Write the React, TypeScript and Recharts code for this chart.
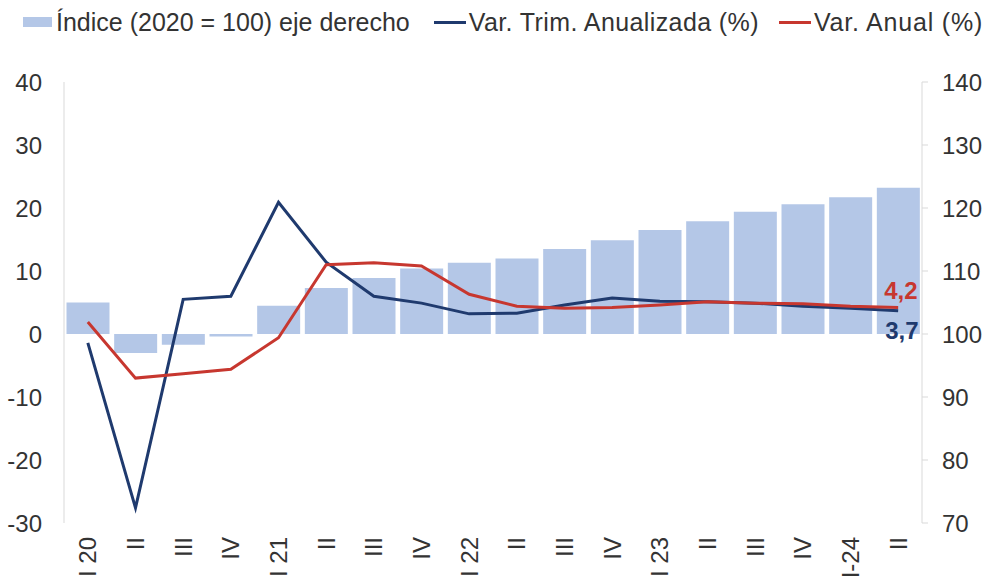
import React from 'react';
import {
  ComposedChart,
  Bar,
  Line,
  XAxis,
  YAxis,
  Legend,
} from 'recharts';

// Trimestres (eje X)
const categories = [
  'I 20', 'II', 'III', 'IV',
  'I 21', 'II', 'III', 'IV',
  'I 22', 'II', 'III', 'IV',
  'I 23', 'II', 'III', 'IV',
  'I-24', 'II',
];

// Índice (2020 = 100), eje derecho
const indice = [
  105.0, 97.0, 98.3, 99.6, 104.5, 107.3, 108.9, 110.4, 111.3,
  112.0, 113.5, 114.9, 116.5, 117.9, 119.4, 120.6, 121.7, 123.2,
];

// Var. Trim. Anualizada (%)
const varTrim = [
  -1.4, -27.6, 5.5, 6.0, 20.9, 11.4, 6.0, 4.9, 3.2,
  3.3, 4.6, 5.7, 5.2, 5.1, 4.9, 4.4, 4.1, 3.7,
];

// Var. Anual (%)
const varAnual = [
  1.9, -7.0, -6.3, -5.6, -0.6, 11.0, 11.3, 10.8, 6.3,
  4.4, 4.1, 4.2, 4.6, 5.1, 4.9, 4.8, 4.4, 4.2,
];

const leftTicks = [-30, -20, -10, 0, 10, 20, 30, 40];
const rightTicks = [70, 80, 90, 100, 110, 120, 130, 140];

const BAR_COLOR = '#b4c7e7';
const BLUE = '#1f3a6e';
const RED = '#c7372f';
const TEXT = '#333333';
const FONT = '"Liberation Sans", Arial, sans-serif';

const data = categories.map((cat, i) => ({
  cat,
  indice: indice[i],
  trim: varTrim[i],
  anual: varAnual[i],
}));

const last = data.length - 1;

// bars start at 100, not at the axis minimum
const barRange = (d: { indice: number }) =>
  [Math.min(100, d.indice), Math.max(100, d.indice)];

const fmt = (v: number) => v.toFixed(1).replace('.', ',');

const XTick = (props: any) => {
  const { x, y, payload } = props;
  return (
    <g transform={`translate(${x},${y + 6}) rotate(-90)`}>
      <text
        x={0}
        y={0}
        dy="0.35em"
        textAnchor="end"
        fill={TEXT}
        fontSize={24}
        fontFamily={FONT}
      >
        {payload.value}
      </text>
    </g>
  );
};

const endLabel = (color: string, dx: number, dy: number) => (props: any) => {
  const { x, y, index, value } = props;
  if (index !== last) return null;
  return (
    <text
      x={x + dx}
      y={y + dy}
      dy="0.35em"
      fill={color}
      fontSize={24}
      fontWeight="bold"
      fontFamily={FONT}
    >
      {fmt(value)}
    </text>
  );
};

const LegendContent = () => (
  <div
    style={{
      display: 'flex',
      alignItems: 'center',
      height: 40,
      paddingLeft: 23,
      fontFamily: FONT,
      fontSize: 25,
      color: TEXT,
      whiteSpace: 'nowrap',
    }}
  >
    <span style={{ width: 29, height: 10, background: BAR_COLOR, marginRight: 4 }} />
    <span style={{ marginRight: 24 }}>Índice (2020 = 100) eje derecho</span>
    <span style={{ width: 32, height: 3, background: BLUE, marginRight: 3 }} />
    <span style={{ marginRight: 20, letterSpacing: 0.4 }}>Var. Trim. Anualizada (%)</span>
    <span style={{ width: 32, height: 3, background: RED, marginRight: 3 }} />
    <span style={{ letterSpacing: 0.8 }}>Var. Anual (%)</span>
  </div>
);

export default function App() {
  return (
    <div style={{ position: 'absolute', left: 0, top: 0, background: '#fff' }}>
      <ComposedChart
        width={985}
        height={582}
        data={data}
        margin={{ top: 42, right: 0, bottom: 0, left: 0 }}
        barCategoryGap={2.5}
      >
        <Legend
          verticalAlign="top"
          align="left"
          content={<LegendContent />}
          wrapperStyle={{ top: 2, left: 0, height: 40 }}
        />
        <XAxis
          dataKey="cat"
          height={59}
          axisLine={false}
          tickLine={false}
          tickSize={6}
          interval={0}
          tick={<XTick />}
        />
        <YAxis
          yAxisId="left"
          orientation="left"
          width={64}
          domain={[-30, 40]}
          ticks={leftTicks}
          allowDataOverflow
          axisLine={{ stroke: '#d9d9d9' }}
          tickLine={false}
          tickSize={0}
          tickMargin={22}
          tick={{ fill: TEXT, fontSize: 24, fontFamily: FONT }}
        />
        <YAxis
          yAxisId="right"
          orientation="right"
          width={63}
          domain={[70, 140]}
          ticks={rightTicks}
          allowDataOverflow
          axisLine={{ stroke: '#d9d9d9' }}
          tickLine={{ stroke: '#d9d9d9' }}
          tickSize={6}
          tickMargin={14}
          tick={{ fill: TEXT, fontSize: 24, fontFamily: FONT, textAnchor: 'start' }}
        />
        <Bar
          yAxisId="right"
          dataKey={barRange}
          name="Índice (2020 = 100) eje derecho"
          fill={BAR_COLOR}
          isAnimationActive={false}
        />
        <Line
          yAxisId="left"
          type="linear"
          dataKey="trim"
          name="Var. Trim. Anualizada (%)"
          stroke={BLUE}
          strokeWidth={3}
          dot={false}
          isAnimationActive={false}
          label={endLabel(BLUE, -13, 20)}
        />
        <Line
          yAxisId="left"
          type="linear"
          dataKey="anual"
          name="Var. Anual (%)"
          stroke={RED}
          strokeWidth={3}
          dot={false}
          isAnimationActive={false}
          label={endLabel(RED, -14, -17)}
        />
      </ComposedChart>
    </div>
  );
}
